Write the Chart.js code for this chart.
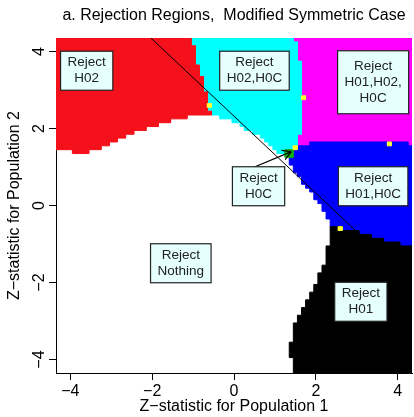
<!DOCTYPE html>
<html>
<head>
<meta charset="utf-8">
<script src="https://cdn.jsdelivr.net/npm/chart.js@4.4.1/dist/chart.umd.min.js"></script>
<style>
  body { margin: 0; background: #fff; }
  canvas { display: block; }
</style>
</head>
<body>
<canvas id="regionChart" width="414" height="417"></canvas>
<script>
const lim = 4.35;
const half = 0.05; // half of one grid cell
const xTicks = [-4, -2, 0, 2, 4];
const yTicks = [-4, -2, 0, 2, 4];

// right edge of "Reject H02" (red): x per y band, top down
const redEdgeY = [4.35, 4.15, 3.65, 3.35, 2.95, 2.45, 2.35];
const redEdgeX = [-1.05, -0.95, -0.85, -0.75, -0.65, -0.55];

// right edge of "Reject H02,H0C" (cyan): x per y band, top down
const cyanEdgeY = [4.35, 4.25, 3.75, 1.85, 1.55];
const cyanEdgeX = [1.45, 1.55, 1.65, 1.55];

// lower edge of red + cyan (top of "Reject Nothing"): y per x band
const humpX = [-4.35, -3.95, -3.55, -3.25, -3.05, -2.85, -2.65, -2.45, -2.15, -1.85, -1.55, -1.15,
  -0.35, -0.05, 0.15, 0.25, 0.45, 0.65, 0.75, 0.85, 0.95, 1.05, 1.25, 1.45, 1.55];
const humpY = [1.45, 1.35, 1.45, 1.55, 1.65, 1.75, 1.85, 1.95, 2.05, 2.15, 2.25, 2.35,
  2.25, 2.15, 2.05, 1.95, 1.85, 1.75, 1.65, 1.55, 1.45, 1.35, 1.45, 1.55];

// "Reject H01,H02,H0C" (magenta) block, cyan and blue lie over it
const magentaX = [1.45, 4.35];
const magentaY = [1.55, 4.35];

// top of "Reject H01,H0C" (blue): y per x band
const blueTopX = [1.55, 1.85, 4.25, 4.35];
const blueTopY = [1.55, 1.65, 1.55];

// left edge of blue: x per y band, bottom up
const blueEdgeY = [-0.55, -0.35, -0.15, 0.05, 0.15, 0.35, 0.45, 0.55, 0.75, 0.85, 1.05, 1.25, 1.45, 1.55];
const blueEdgeX = [2.35, 2.25, 2.15, 2.05, 1.95, 1.85, 1.75, 1.65, 1.55, 1.45, 1.35, 1.45, 1.55];

// top of "Reject H01" (black): y per x band
const blackTopX = [2.35, 2.65, 3.05, 3.35, 3.65, 4.05, 4.35];
const blackTopY = [-0.55, -0.65, -0.75, -0.85, -0.95, -1.05];

// left edge of black: x per y band, bottom up
const blackEdgeY = [-4.35, -3.95, -3.55, -3.05, -2.85, -2.65, -2.45, -2.25, -2.05, -1.75, -1.55, -1.05, -0.55];
const blackEdgeX = [1.45, 1.35, 1.45, 1.55, 1.65, 1.75, 1.85, 1.95, 2.05, 2.15, 2.25, 2.35];

// single cells
const greenX = [1.3, 1.4, 1.3, 1.4];
const greenY = [1.3, 1.3, 1.4, 1.4];
const yellowX = [-0.6, 1.7, 1.5, 3.8, 2.6];
const yellowY = [2.6, 2.8, 1.5, 1.6, -0.6];

// line x + y = c
const diagX = [-2.03, 4.35];
const diagY = [4.35, -2.03];

const arrowX = [0.5, 1.4];
const arrowY = [1.0, 1.4];

const labelText = [
  ["Reject", "H02"],
  ["Reject", "H02,H0C"],
  ["Reject", "H01,H02,", "H0C"],
  ["Reject", "H0C"],
  ["Reject", "H01,H0C"],
  ["Reject", "Nothing"],
  ["Reject", "H01"]
];
const labelX = [-3.6, 0.5, 3.4, 0.6, 3.4, -1.3, 3.1];
const labelY = [3.5, 3.5, 3.2, 0.5, 0.5, -1.5, -2.5];

const family = '"Liberation Sans", Arial, sans-serif';
Chart.defaults.font.family = family;

const fmt = v => (v < 0 ? "\u2212" : "") + Math.abs(v);

// y constant on each x band
function hSteps(xs, ys) {
  const pts = [];
  ys.forEach((y, i) => pts.push({x: xs[i], y: y}, {x: xs[i + 1], y: y}));
  return pts;
}
// x constant on each y band
function vSteps(xs, ys) {
  const pts = [];
  xs.forEach((x, i) => pts.push({x: x, y: ys[i]}, {x: x, y: ys[i + 1]}));
  return pts;
}
const rev = a => a.slice().reverse();
const closeUp = pts => pts.concat([pts[0]]);

function rect(x0, x1, y0, y1) {
  return [{x: x0, y: y0}, {x: x1, y: y0}, {x: x1, y: y1}, {x: x0, y: y1}];
}

function region(pts, color, order) {
  return {
    data: closeUp(pts),
    showLine: true,
    fill: "shape",
    backgroundColor: color,
    borderColor: color,
    borderWidth: 1,
    pointRadius: 0,
    order: order
  };
}

const split = redEdgeX[redEdgeX.length - 1];
const humpPts = hSteps(humpX, humpY);
const redEdgePts = vSteps(redEdgeX, redEdgeY);
const cyanEdgePts = vSteps(cyanEdgeX, cyanEdgeY);

const redPoly = [{x: -lim, y: lim}].concat(redEdgePts, rev(humpPts.filter(p => p.x < split)));
const cyanPoly = cyanEdgePts.concat(rev(humpPts.filter(p => p.x > split)), rev(redEdgePts));
const magentaPoly = rect(magentaX[0], magentaX[1], magentaY[0], magentaY[1]);
const bluePoly = hSteps(blueTopX, blueTopY).concat(rev(hSteps(blackTopX, blackTopY)), vSteps(blueEdgeX, blueEdgeY));
const blackPoly = hSteps(blackTopX, blackTopY).concat([{x: lim, y: -lim}], vSteps(blackEdgeX, blackEdgeY));

const datasets = [
  region(magentaPoly, "#ff00ff", 9),
  region(bluePoly, "#0000ff", 8),
  region(cyanPoly, "#00ffff", 7),
  region(redPoly, "#f5111b", 6),
  region(blackPoly, "#000000", 5)
];
greenX.forEach((gx, i) => {
  datasets.push(region(rect(gx - half, gx + half, greenY[i] - half, greenY[i] + half), "#10b010", 4));
});
yellowX.forEach((yx, i) => {
  datasets.push(region(rect(yx - half, yx + half, yellowY[i] - half, yellowY[i] + half), "#ffff33", 3));
});
datasets.push({
  data: diagX.map((x, i) => ({x: x, y: diagY[i]})),
  showLine: true,
  fill: false,
  borderColor: "#000",
  borderWidth: 1,
  pointRadius: 0,
  order: 0
});

const annotate = {
  id: "annotate",
  afterDatasetsDraw(chart) {
    const {ctx, scales: {x, y}} = chart;
    ctx.save();

    const x0 = x.getPixelForValue(arrowX[0]), y0 = y.getPixelForValue(arrowY[0]);
    const x1 = x.getPixelForValue(arrowX[1]), y1 = y.getPixelForValue(arrowY[1]);
    const ang = Math.atan2(y1 - y0, x1 - x0);
    ctx.strokeStyle = "#000";
    ctx.lineWidth = 1.2;
    ctx.beginPath();
    ctx.moveTo(x0, y0);
    ctx.lineTo(x1, y1);
    [-1, 1].forEach(s => {
      ctx.moveTo(x1, y1);
      ctx.lineTo(x1 - 10 * Math.cos(ang + s * Math.PI / 6), y1 - 10 * Math.sin(ang + s * Math.PI / 6));
    });
    ctx.stroke();

    ctx.font = "13.5px " + family;
    ctx.textAlign = "center";
    ctx.textBaseline = "middle";
    labelText.forEach((lines, i) => {
      const cx = x.getPixelForValue(labelX[i]);
      const cy = y.getPixelForValue(labelY[i]);
      const w = Math.max(...lines.map(t => ctx.measureText(t).width)) + 14;
      const h = 24 * lines.length - 9;
      ctx.fillStyle = "#e6ffff";
      ctx.fillRect(cx - w / 2, cy - h / 2, w, h);
      ctx.strokeStyle = "#222";
      ctx.lineWidth = 1.2;
      ctx.strokeRect(cx - w / 2, cy - h / 2, w, h);
      ctx.fillStyle = "#222";
      lines.forEach((t, j) => ctx.fillText(t, cx, cy + (j - (lines.length - 1) / 2) * 16));
    });
    ctx.restore();
  },
  afterDraw(chart) {
    // y tick labels run along the axis, as in R
    const {ctx, scales: {y}} = chart;
    ctx.save();
    ctx.font = "16px " + family;
    ctx.fillStyle = "#000";
    ctx.textAlign = "center";
    ctx.textBaseline = "middle";
    yTicks.forEach(v => {
      ctx.save();
      ctx.translate(y.right - 16, y.getPixelForValue(v));
      ctx.rotate(-Math.PI / 2);
      ctx.fillText(fmt(v), 0, 0);
      ctx.restore();
    });
    ctx.restore();
  }
};

const chart = new Chart(document.getElementById("regionChart"), {
  type: "scatter",
  data: { datasets: datasets },
  plugins: [annotate],
  options: {
    responsive: false,
    animation: false,
    events: [],
    layout: { padding: { top: 0, right: 2, bottom: 0, left: 0 } },
    plugins: {
      legend: { display: false },
      tooltip: { enabled: false },
      title: {
        display: true,
        text: "a. Rejection Regions,  Modified Symmetric Case",
        color: "#000",
        fullSize: false,
        font: { size: 16, weight: "normal" },
        padding: { top: 6, bottom: 12.8 }
      }
    },
    scales: {
      x: {
        type: "linear",
        min: -lim,
        max: lim,
        afterFit(s) { s.height = 44; },
        afterBuildTicks(s) { s.ticks = xTicks.map(v => ({ value: v })); },
        grid: { drawOnChartArea: false, tickLength: 7, color: "#000" },
        border: { display: true, color: "#000", width: 1 },
        ticks: { color: "#000", font: { size: 16 }, padding: 2, maxRotation: 0, callback: fmt },
        title: {
          display: true,
          text: "Z\u2212statistic for Population 1",
          color: "#000",
          font: { size: 16 },
          padding: { top: 0, bottom: 1 }
        }
      },
      y: {
        type: "linear",
        min: -lim,
        max: lim,
        afterFit(s) { s.width = 56; },
        afterBuildTicks(s) { s.ticks = yTicks.map(v => ({ value: v })); },
        grid: { drawOnChartArea: false, tickLength: 7, color: "#000" },
        border: { display: true, color: "#000", width: 1 },
        ticks: { display: false },
        title: {
          display: true,
          text: "Z\u2212statistic for Population 2",
          color: "#000",
          font: { size: 16 },
          padding: { top: 5, bottom: 0 }
        }
      }
    }
  }
});
</script>
</body>
</html>
